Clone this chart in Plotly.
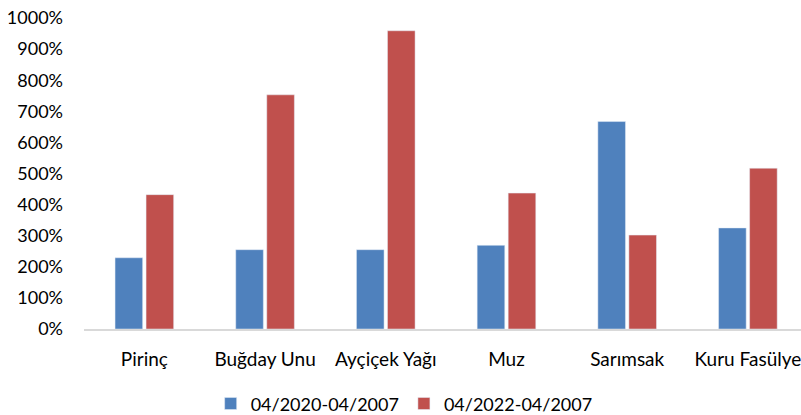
import plotly.graph_objects as go

categories = ["Pirinç", "Buğday Unu", "Ayçiçek Yağı", "Muz", "Sarımsak", "Kuru Fasülye"]
series_2020 = [229, 255, 255, 269, 667, 325]
series_2022 = [432, 753, 959, 437, 302, 517]
name_2020 = "04/2020-04/2007"
name_2022 = "04/2022-04/2007"

FONT = "Lato"

fig = go.Figure()
fig.add_trace(go.Bar(x=categories, y=series_2020, name=name_2020,
                     marker=dict(color="#4F81BD")))
fig.add_trace(go.Bar(x=categories, y=series_2022, name=name_2022,
                     marker=dict(color="#C0504D")))

fig.update_layout(
    width=801, height=415,
    margin=dict(l=84, r=0, t=18, b=86),
    plot_bgcolor="white", paper_bgcolor="white",
    barmode="group", bargap=0.486, bargroupgap=0.11,
    font=dict(family=FONT, size=18, color="#000000"),
    showlegend=True,
    legend=dict(orientation="h", xref="container", yref="container",
                x=0.263, y=0.027, xanchor="left", yanchor="middle",
                font=dict(family=FONT, size=18, color="#000000"),
                itemwidth=30, traceorder="normal"),
)
fig.update_xaxes(type="category", range=[-0.5, 5.44], showline=True,
                 linecolor="#D9D9D9", linewidth=1.5, showgrid=False,
                 ticks="", ticklabelstandoff=12, fixedrange=True,
                 tickfont=dict(family=FONT, size=19, color="#000000"))
fig.update_yaxes(range=[0, 1000], dtick=100, tick0=0, ticksuffix="%",
                 showgrid=False, zeroline=False, showline=False,
                 ticks="", ticklabelstandoff=20)

fig.write_html("out.html", config={"displayModeBar": False},
               post_script="document.body.style.margin='0';")
